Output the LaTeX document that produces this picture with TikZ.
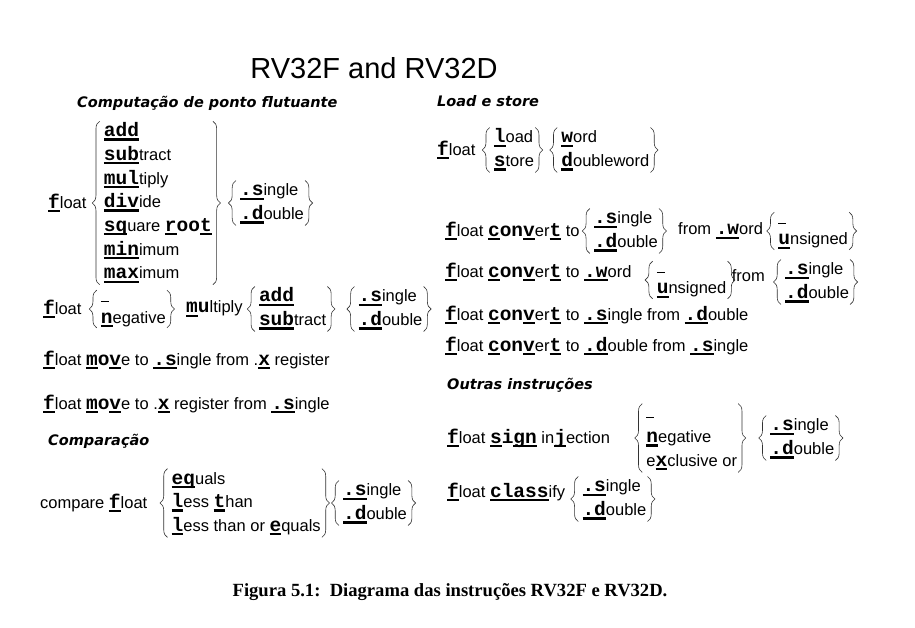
\documentclass[tikz,border=0pt]{standalone}
\usepackage{fontspec}
\setmainfont{Liberation Sans}
\newfontfamily\codefont{Liberation Mono}
\newfontfamily\headfont{DejaVu Sans}
\newfontfamily\capfont{Liberation Serif}
\usetikzlibrary{positioning, decorations.pathreplacing}

% bold mono letters, and the underlined ones that make up the mnemonic
\newcommand{\mono}[1]{{\codefont\bfseries\fontsize{19.5}{23.7}\selectfont #1}}
\newcommand{\opc}[1]{\setbox0\hbox{\mono{#1}}\rlap{\rule[-4pt]{\wd0}{2.3pt}}\box0\relax}
\newcommand{\blank}{\rule[1.5pt]{8pt}{0.8pt}}
\newcommand{\choices}[1]{\begin{tabular}{@{}l@{}}#1\end{tabular}}

\begin{document}
\begin{tikzpicture}[
  x=1pt, y=-1pt,
  txt/.style={inner sep=0pt, anchor=west, font=\fontsize{16.5}{23.7}\selectfont},
  head/.style={inner sep=0pt, anchor=west, font=\headfont\bfseries\itshape\fontsize{14.5}{17}\selectfont},
  brc/.style={decorate, decoration={brace, amplitude=7.5pt}, line width=0.6pt, draw=black!80}
]
\useasboundingbox (0,0) rectangle (915,628);

\node[inner sep=0pt, font=\fontsize{29}{30}\selectfont] (title) at (374,68) {RV32F and RV32D};

% Computacao de ponto flutuante
\node[head] (hcomp) at (77,103) {Computação de ponto flutuante};
\node[txt] (fa) at (48,203) {\opc{f}loat};
\node[txt, right=17pt of fa] (opsa) {\choices{\opc{add}\\ \opc{sub}tract\\ \opc{mul}tiply\\ \opc{div}ide\\ \opc{sq}uare \opc{r}\mono{oo}\opc{t}\\ \opc{min}imum\\ \opc{max}imum}};
\node[txt, right=28pt of opsa] (preca) {\choices{\opc{.s}ingle\\ \opc{.d}ouble}};

\node[txt] (fb) at (43,309) {\opc{f}loat};
\node[txt, font=\fontsize{16.5}{20}\selectfont, right=19pt of fb] (negb) {\choices{\blank\\ \opc{n}egative}};
\node[txt, right=20pt of negb] (mulb) {\opc{m}\mono{u}ltiply};
\node[txt, right=16pt of mulb] (addb) {\choices{\opc{add}\\ \opc{sub}tract}};
\node[txt, right=32pt of addb] (precb) {\choices{\opc{.s}ingle\\ \opc{.d}ouble}};

\node[txt] (mvxs) at (43,360) {\opc{f}loat \opc{m}\mono{o}\opc{v}e to \opc{.s}ingle from .\opc{x} register};
\node[txt] (mvsx) at (43,404) {\opc{f}loat \opc{m}\mono{o}\opc{v}e to .\opc{x} register from \opc{.s}ingle};

% Comparacao
\node[head] (hcmp) at (48,441) {Comparação};
\node[txt] (cmpf) at (40,503) {compare \opc{f}loat};
\node[txt, right=24pt of cmpf] (cmpop) {\choices{\opc{eq}uals\\ \opc{l}ess \opc{t}han\\ \opc{l}ess than or \opc{e}quals}};
\node[txt, right=22pt of cmpop] (cmpp) {\choices{\opc{.s}ingle\\ \opc{.d}ouble}};

% Load e store
\node[head] (hls) at (437,101) {Load e store};
\node[txt] (fls) at (437,150) {\opc{f}loat};
\node[txt, right=18pt of fls] (lsop) {\choices{\opc{l}oad\\ \opc{s}tore}};
\node[txt, right=27pt of lsop] (lsw) {\choices{\opc{w}ord\\ \opc{d}oubleword}};

\node[txt] (cvta) at (445,231) {\opc{f}loat \opc{c}\mono{on}\opc{v}er\opc{t} to};
\node[txt, right=14pt of cvta] (cvtap) {\choices{\opc{.s}ingle\\ \opc{.d}ouble}};
\node[txt, right=20pt of cvtap] (cvtaf) {from \opc{.w}ord};
\node[txt, font=\fontsize{16.5}{20}\selectfont, right=15pt of cvtaf] (cvtau) {\choices{\blank\\ \opc{u}nsigned}};

\node[txt] (cvtb) at (445,272) {\opc{f}loat \opc{c}\mono{on}\opc{v}er\opc{t} to \opc{.w}ord};
\node[txt, font=\fontsize{16.5}{20}\selectfont, right=25pt of cvtb, yshift=-8pt] (cvtbu) {\choices{\blank\\ \opc{u}nsigned}};
\node[txt, right=5pt of cvtbu, yshift=4pt] (cvtbf) {from};
\node[txt, right=20pt of cvtbf, yshift=-6pt] (cvtbp) {\choices{\opc{.s}ingle\\ \opc{.d}ouble}};

\node[txt] (cvtc) at (445,315) {\opc{f}loat \opc{c}\mono{on}\opc{v}er\opc{t} to \opc{.s}ingle from \opc{.d}ouble};
\node[txt] (cvtd) at (445,346) {\opc{f}loat \opc{c}\mono{on}\opc{v}er\opc{t} to \opc{.d}ouble from \opc{.s}ingle};

% Outras instrucoes
\node[head] (hout) at (447,385) {Outras instruções};
\node[txt] (sgnj) at (447,438) {\opc{f}loat \opc{s}\mono{i}\opc{gn} in\opc{j}ection};
\node[txt, right=36pt of sgnj] (sgnop) {\choices{\blank\\ \opc{n}egative\\ e\opc{x}clusive or}};
\node[txt, right=33pt of sgnop] (sgnp) {\choices{\opc{.s}ingle\\ \opc{.d}ouble}};

\node[txt] (fcls) at (447,492) {\opc{f}loat \opc{class}ify};
\node[txt, right=17pt of fcls, yshift=-7pt] (clsp) {\choices{\opc{.s}ingle\\ \opc{.d}ouble}};

% braces round every list of choices
\foreach \s in {opsa,preca,negb,addb,precb,cmpop,cmpp,lsop,lsw,cvtap,cvtau,cvtbu,cvtbp,sgnop,sgnp,clsp} {
  \draw[brc] ([xshift=-4pt,yshift=1.4pt]\s.south west) -- ([xshift=-4pt,yshift=-1.4pt]\s.north west);
  \draw[brc] ([xshift=1pt,yshift=-1.4pt]\s.north east) -- ([xshift=1pt,yshift=1.4pt]\s.south east);
}

\node[inner sep=0pt, font=\capfont\bfseries\fontsize{18.6}{20}\selectfont] (cap) at (450,592) {Figura 5.1:\ \ Diagrama das instruções RV32F e RV32D.};
\end{tikzpicture}
\end{document}
